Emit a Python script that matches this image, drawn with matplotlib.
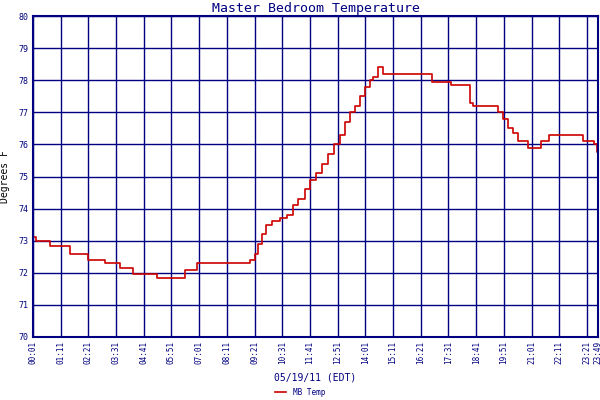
import matplotlib
matplotlib.use("Agg")
import matplotlib.pyplot as plt

# minutes after 00:01 and temperature (F)
minutes = [0, 8, 43, 94, 139, 182, 220, 253, 313, 384, 414, 548,
           561, 569, 579, 589, 604, 624, 642, 657, 670, 687, 700, 715, 730, 745,
           761, 776, 788, 801, 814, 826, 839, 852, 859, 872, 884,
           1008, 1056, 1104, 1112, 1175, 1188, 1200, 1213, 1226, 1251, 1284,
           1304, 1390, 1418, 1425]
temps = [73.1, 73.0, 72.85, 72.6, 72.4, 72.3, 72.15, 71.95, 71.85, 72.1, 72.3, 72.4,
         72.6, 72.9, 73.2, 73.5, 73.6, 73.7, 73.8, 74.1, 74.3, 74.6, 74.9, 75.1, 75.4, 75.7,
         76.0, 76.3, 76.7, 77.0, 77.2, 77.5, 77.8, 78.0, 78.1, 78.4, 78.2,
         77.95, 77.85, 77.3, 77.2, 77.0, 76.8, 76.5, 76.35, 76.1, 75.9, 76.1,
         76.3, 76.1, 76.0, 75.75]

tick_minutes = [k * 70 for k in range(21)] + [1428]
tick_labels = ["00:01", "01:11", "02:21", "03:31", "04:41", "05:51", "07:01", "08:11",
               "09:21", "10:31", "11:41", "12:51", "14:01", "15:11", "16:21", "17:31",
               "18:41", "19:51", "21:01", "22:11", "23:21", "23:49"]
y_ticks = list(range(70, 81))

navy = "#000080"
red = "#cc0000"
plt.rcParams['font.family'] = ['DejaVu Sans Mono']

fig = plt.figure(figsize=(6, 4), dpi=100)
ax = fig.add_axes([33/600, 63/400, 565/600, 321/400])
ax.step(minutes + [1428], temps + [temps[-1]], where="post", color=red, lw=1.2, label="MB Temp")
ax.set_xlim(0, 1428)
ax.set_ylim(70, 80)
ax.set_xticks(tick_minutes)
ax.set_xticklabels(tick_labels, rotation=90, fontsize=5.5, color=navy)
ax.set_yticks(y_ticks)
ax.set_yticklabels([str(v) for v in y_ticks], fontsize=6, color=navy)
ax.tick_params(length=0, pad=3)
ax.grid(True, color=navy, lw=1)
for s in ax.spines.values():
    s.set_color(navy)
    s.set_linewidth(1.5)
ax.set_title("Master Bedroom Temperature", fontsize=9.5, color=navy, pad=3)
ax.set_ylabel("Degrees F", fontsize=7, color="black", labelpad=6)
ax.set_xlabel("05/19/11 (EDT)", fontsize=7, color=navy, labelpad=6)
fig.legend(loc="lower center", bbox_to_anchor=(0.5, -0.01), frameon=False,
           fontsize=5.5, labelcolor=navy, handlelength=1.5)
fig.savefig("out.png", dpi=100)
